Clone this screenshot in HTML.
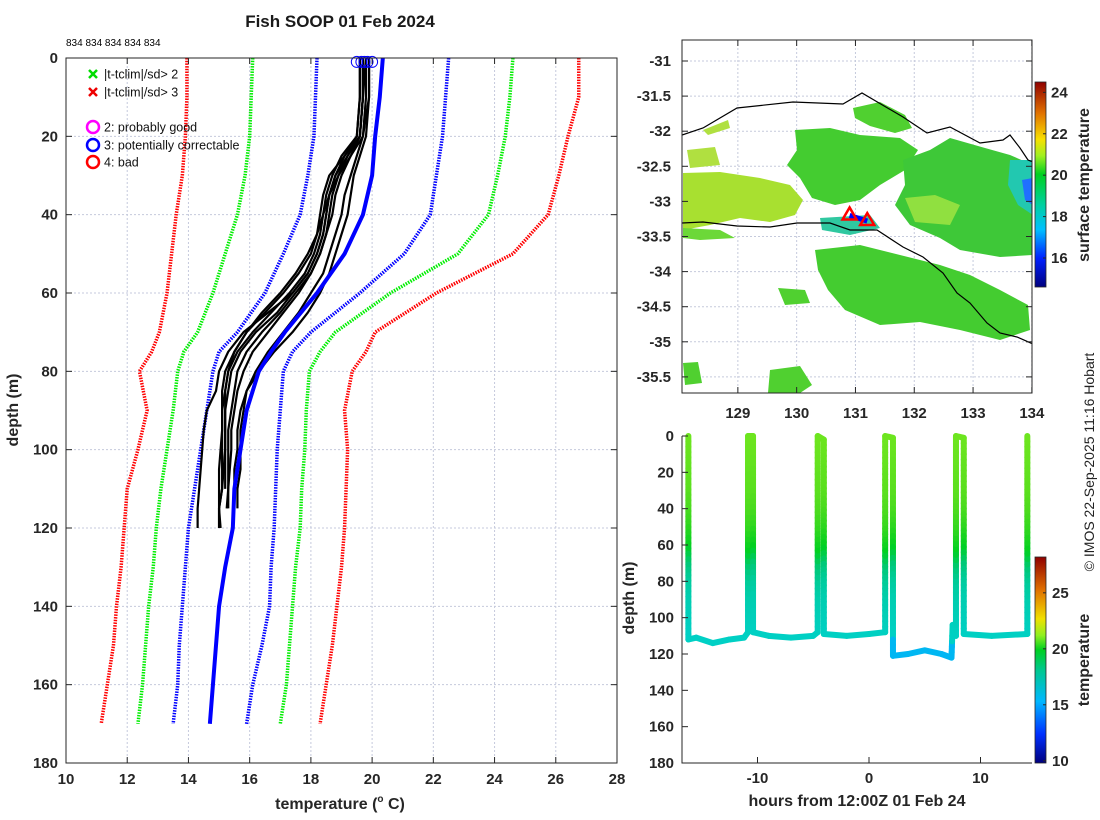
<!DOCTYPE html>
<html><head><meta charset="utf-8">
<style>
html,body{margin:0;padding:0;background:#fff;}
svg{display:block;font-family:"Liberation Sans","DejaVu Sans",sans-serif;}
.tk{font-size:15px;font-weight:bold;fill:#262626;}
.lab{font-size:16px;font-weight:bold;fill:#262626;}
</style></head>
<body>
<svg id="fig" width="1100" height="820" viewBox="0 0 1100 820" xmlns="http://www.w3.org/2000/svg">
<defs>
<linearGradient id="cmap" x1="0" y1="1" x2="0" y2="0">
<stop offset="0" stop-color="#00007f"/><stop offset="0.14" stop-color="#0020ff"/>
<stop offset="0.28" stop-color="#00c0ff"/><stop offset="0.40" stop-color="#00d0a0"/>
<stop offset="0.55" stop-color="#00d020"/><stop offset="0.64" stop-color="#a0f020"/>
<stop offset="0.72" stop-color="#f8e000"/><stop offset="0.85" stop-color="#e07000"/>
<stop offset="1" stop-color="#900000"/></linearGradient>
<linearGradient id="cmap2" x1="0" y1="1" x2="0" y2="0">
<stop offset="0" stop-color="#00007f"/><stop offset="0.14" stop-color="#0030ff"/>
<stop offset="0.30" stop-color="#00b8ff"/><stop offset="0.45" stop-color="#00c890"/>
<stop offset="0.55" stop-color="#00d020"/><stop offset="0.62" stop-color="#90f020"/>
<stop offset="0.70" stop-color="#f0e000"/><stop offset="0.84" stop-color="#e07000"/>
<stop offset="1" stop-color="#900000"/></linearGradient>
<clipPath id="clipL"><rect x="66" y="58" width="551" height="705"/></clipPath>
<clipPath id="clipM"><rect x="682" y="40" width="350" height="353"/></clipPath>
</defs>
<g id="left"></g>
<g id="map"></g>
<g id="br"></g>
</svg>
<script>
// ---------- Left panel data ----------
const climDepths = [0,10,20,30,40,50,60,70,75,80,90,100,110,120,130,140,150,160,170];
const red3Lo  = [13.95,13.95,13.9,13.8,13.6,13.45,13.3,13.05,12.8,12.4,12.65,12.35,12.0,11.9,11.8,11.65,11.55,11.35,11.15];
const grn2Lo  = [16.1,16.05,16.0,15.85,15.6,15.2,14.8,14.3,13.85,13.65,13.5,13.3,13.1,12.95,12.85,12.7,12.6,12.5,12.35];
const blu1Lo  = [18.2,18.15,18.1,17.9,17.65,17.1,16.5,15.6,15.0,14.8,14.6,14.4,14.2,14.0,13.9,13.8,13.7,13.65,13.5];
const blu1Hi  = [22.5,22.4,22.3,22.1,21.9,21.05,19.6,18.0,17.4,17.1,17.0,16.9,16.85,16.8,16.7,16.65,16.4,16.1,15.9];
const grn2Hi  = [24.6,24.5,24.35,24.1,23.8,22.8,20.6,18.8,18.3,17.95,17.85,17.8,17.7,17.65,17.5,17.4,17.3,17.2,17.0];
const red3Hi  = [26.75,26.75,26.4,26.1,25.75,24.6,22.1,20.1,19.8,19.35,19.1,19.2,19.15,19.1,19.0,18.85,18.7,18.5,18.3];
const meanProf = [20.35,20.25,20.1,20.0,19.7,19.1,18.2,17.15,16.7,16.3,15.9,15.7,15.5,15.45,15.2,15.0,14.9,14.8,14.7];
const profDepths = [0,10,20,25,30,35,40,45,50,55,60,65,70,75,80,85,90,95,100,105,110,115,120];
const profiles = [
 [19.7,19.7,19.6,19.2,18.9,18.7,18.6,18.5,18.3,18.0,17.5,17.0,16.4,15.9,15.6,15.5,15.4,15.3,15.3,15.3,15.3,15.25,null],
 [19.8,19.8,19.7,19.3,18.9,18.6,18.4,18.2,17.9,17.5,17.0,16.4,15.9,15.5,15.3,15.2,15.2,15.2,15.2,15.2,15.2,null,null],
 [19.6,19.6,19.5,19.0,18.7,18.5,18.4,18.3,18.1,17.8,17.3,16.7,16.1,15.6,15.3,15.2,15.1,15.1,15.1,15.1,15.1,15.0,15.0],
 [19.9,19.9,19.8,19.6,19.4,19.3,19.2,19.0,18.8,18.6,18.3,17.9,17.4,16.8,16.3,15.9,15.7,15.6,15.6,15.5,15.5,null,null],
 [19.7,19.7,19.6,19.1,18.8,18.6,18.5,18.4,18.2,17.9,17.4,16.6,15.8,15.3,15.0,14.9,14.6,14.5,14.45,14.4,14.35,14.3,14.3],
 [19.8,19.7,19.6,19.3,19.0,18.8,18.7,18.5,18.3,18.0,17.6,17.1,16.6,16.1,15.8,15.6,15.5,15.4,15.4,15.35,15.3,15.3,null],
 [19.6,19.6,19.5,19.1,18.6,18.4,18.3,18.2,18.0,17.6,17.1,16.5,15.9,15.5,15.2,15.1,15.1,15.1,15.05,15.0,15.0,15.0,15.05],
 [19.9,19.9,19.7,19.5,19.3,19.1,19.0,18.8,18.6,18.4,18.0,17.6,17.1,16.6,16.2,15.9,15.8,15.7,15.7,15.7,15.6,15.6,null],
 [19.7,19.7,19.6,19.2,18.8,18.6,18.5,18.4,18.2,17.9,17.4,16.9,16.2,15.7,15.4,15.3,15.2,15.2,15.2,15.15,15.1,15.0,15.0]
];
const circleTemps = [19.5,19.65,19.75,19.85,20.0];
const xTicksL = [10,12,14,16,18,20,22,24,26,28];
const yTicksL = [0,20,40,60,80,100,120,140,160,180];

// ---------- Map data ----------
const lonTicks = [129,130,131,132,133,134];
const latTicks = [-31,-31.5,-32,-32.5,-33,-33.5,-34,-34.5,-35,-35.5];
const sstTicks = [16,18,20,22,24];
const shipLon = [130.9,131.2];
const shipLat = [-33.2,-33.28];

// ---------- Depth-time data ----------
const trackHours = [-16.2,-16.2,-15.5,-14,-12.5,-11.2,-10.85,-10.85,-10.4,-10.4,-9,-7,-5,-4.6,-4.6,-4.05,-4.05,-2,0,1.45,1.45,2.15,2.15,3.5,5,6.5,7.4,7.5,7.8,7.8,8.5,8.5,11,14.2,14.2];
const trackDepths = [0,112,111,114,112,111,108,0,0,108,110,111,110,108,0,2,109,110,109,108,0,1,121,120,118,120,122,104,110,0,1,109,110,109,0];
const hourTicks = [-10,0,10];
const depthTicksR = [0,20,40,60,80,100,120,140,160,180];
const tempTicksR = [10,15,20,25];

const NS='http://www.w3.org/2000/svg';
function mk(parent,tag,attrs,text){const e=document.createElementNS(NS,tag);for(const k in attrs)e.setAttribute(k,attrs[k]);if(text!==undefined)e.textContent=text;parent.appendChild(e);return e;}

// ===== Left panel =====
const L=document.getElementById('left');
const lx=t=>66+(t-10)*(551/18), ly=d=>58+d*(705/180);
for(const t of xTicksL){const g=mk(L,'line',{x1:lx(t),x2:lx(t),y1:58,y2:763,stroke:'#c5cadc','stroke-width':1,'stroke-dasharray':'2 2'});
}
for(const d of yTicksL){const g=mk(L,'line',{x1:66,x2:617,y1:ly(d),y2:ly(d),stroke:'#c5cadc','stroke-width':1,'stroke-dasharray':'2 2'});
}
const climSets=[[red3Lo,'#ff0000','clim-minus-3sd'],[grn2Lo,'#00ee00','clim-minus-2sd'],[blu1Lo,'#0000ff','clim-minus-1sd'],[blu1Hi,'#0000ff','clim-plus-1sd'],[grn2Hi,'#00ee00','clim-plus-2sd'],[red3Hi,'#ff0000','clim-plus-3sd']];
const clipG=mk(L,'g',{'clip-path':'url(#clipL)'});
for(const [arr,col,nm] of climSets){
 const p=mk(clipG,'polyline',{points:arr.map((t,i)=>lx(t)+','+ly(climDepths[i])).join(' '),fill:'none',stroke:col,'stroke-width':3.5,'stroke-dasharray':'1.5 1.2'});
 
}
for(const pr of profiles){
 const pts=[];pr.forEach((t,i)=>{if(t!==null)pts.push(lx(t)+','+ly(profDepths[i]));});
 const p=mk(clipG,'polyline',{points:pts.join(' '),fill:'none',stroke:'#000','stroke-width':2.2,'stroke-linejoin':'round'});
 
}
{const p=mk(clipG,'polyline',{points:meanProf.map((t,i)=>lx(t)+','+ly(climDepths[i])).join(' '),fill:'none',stroke:'#0000ff','stroke-width':4});
}
for(const t of circleTemps){const c=mk(L,'circle',{cx:lx(t),cy:ly(1),r:5.5,fill:'none',stroke:'#0000ff','stroke-width':1});
}
{const f=mk(L,'rect',{x:66,y:58,width:551,height:705,fill:'none',stroke:'#262626','stroke-width':1});}
for(const t of xTicksL){mk(L,'line',{x1:lx(t),x2:lx(t),y1:763,y2:757,stroke:'#262626'});mk(L,'line',{x1:lx(t),x2:lx(t),y1:58,y2:64,stroke:'#262626'});
 const e=mk(L,'text',{x:lx(t),y:784,'text-anchor':'middle',class:'tk'},String(t));}
for(const d of yTicksL){mk(L,'line',{x1:66,x2:72,y1:ly(d),y2:ly(d),stroke:'#262626'});mk(L,'line',{x1:617,x2:611,y1:ly(d),y2:ly(d),stroke:'#262626'});
 const e=mk(L,'text',{x:58,y:ly(d)+5,'text-anchor':'end',class:'tk'},String(d));}
</script>
<script>
(function(){
const L=document.getElementById('left');
function mk(p,tag,a,t){const e=document.createElementNS('http://www.w3.org/2000/svg',tag);for(const k in a)e.setAttribute(k,a[k]);if(t!==undefined)e.textContent=t;p.appendChild(e);return e;}
let e;
e=mk(L,'text',{x:340,y:27,'text-anchor':'middle','font-size':17,'font-weight':'bold',fill:'#1a1a1a'},'Fish SOOP 01 Feb 2024');

e=mk(L,'text',{x:66,y:46,'font-size':10,fill:'#000'},'834 834 834 834 834');

e=mk(L,'text',{x:18,y:410,'text-anchor':'middle',class:'lab',transform:'rotate(-90 18 410)'},'depth (m)');

e=mk(L,'text',{x:340,y:809,'text-anchor':'middle',class:'lab'});
e.innerHTML='temperature (<tspan font-size="10" dy="-7">o</tspan><tspan dy="7"> C)</tspan>';

const lg=mk(L,'g',{});
const items=[['x','#00dd00','|t-tclim|/sd> 2',74],['x','#ee0000','|t-tclim|/sd> 3',92],['o','#ff00ff','2: probably good',127],['o','#0000ff','3: potentially correctable',145],['o','#ff0000','4: bad',162]];
for(const [m,c,t,y] of items){
 const g=mk(lg,'g',{});
 if(m==='x'){mk(g,'path',{d:`M89 ${y-4}l8 8M97 ${y-4}l-8 8`,stroke:c,'stroke-width':2.5});}
 else{mk(g,'circle',{cx:93,cy:y,r:6,fill:'none',stroke:c,'stroke-width':2.5});}
 mk(g,'text',{x:104,y:y+4.5,'font-size':12.5,fill:'#111'},t);
}
})();
</script>
<script>
(function(){
const M=document.getElementById('map');
function mk(p,tag,a,t){const e=document.createElementNS('http://www.w3.org/2000/svg',tag);for(const k in a)e.setAttribute(k,a[k]);if(t!==undefined)e.textContent=t;p.appendChild(e);return e;}
const mx=lon=>682+(lon-128.05)*58.8, my=lat=>61+(-31-lat)*70.2;
for(const v of lonTicks){const g=mk(M,'line',{x1:mx(v),x2:mx(v),y1:40,y2:393,stroke:'#c5cadc','stroke-dasharray':'2 2'});}
for(const v of latTicks){const g=mk(M,'line',{x1:682,x2:1032,y1:my(v),y2:my(v),stroke:'#c5cadc','stroke-dasharray':'2 2'});}
const cg=mk(M,'g',{'clip-path':'url(#clipM)'});

const blobs=[
 ['#50d030','M853,108 L880,102 L905,115 L912,128 L895,133 L870,126 L855,118Z'],
 ['#44cc30','M795,130 L830,128 L860,135 L900,138 L918,150 L905,170 L880,185 L860,200 L835,205 L812,198 L800,178 L787,165 L797,150Z'],
 ['#a8e030','M683,173 L720,172 L760,178 L790,185 L803,200 L795,215 L770,222 L740,218 L710,225 L683,230Z'],
 ['#6cd838','M683,228 L720,230 L735,238 L700,240 L683,238Z'],
 ['#3ec838','M903,160 L930,150 L950,138 L985,148 L1010,155 L1033,165 L1033,255 L1000,257 L960,250 L940,238 L910,225 L895,205 L905,185Z'],
 ['#90e040','M905,198 L935,195 L960,205 L950,225 L915,222Z'],
 ['#22c8b0','M1010,160 L1033,160 L1033,215 L1018,205 L1008,185Z'],
 ['#2070ff','M1022,180 L1033,178 L1033,205 L1025,200Z'],
 ['#44cc30','M815,250 L860,245 L900,255 L940,265 L970,275 L1000,290 L1028,305 L1030,330 L1000,340 L960,330 L920,322 L880,325 L845,310 L828,290 L818,270Z'],
 ['#b0e040','M687,150 L715,147 L720,165 L690,168Z'],
 ['#b0e040','M703,130 L728,120 L730,128 L708,135Z'],
 ['#50d030','M778,288 L805,290 L810,303 L785,305Z'],
 ['#50d030','M683,363 L698,362 L702,383 L685,385Z'],
 ['#50d030','M770,370 L800,366 L812,385 L800,393 L768,393Z'],
 ['#30c8a0','M820,218 L870,215 L880,228 L850,235 L822,230Z']
];
for(const [c,d] of blobs){const p=mk(cg,'path',{d:d,fill:c});}
const coast1='682,135 703,128 737,108 793,102 843,104 862,93 903,117 927,133 950,127 980,143 1003,140 1010,135 1020,148 1028,160 1033,162';
const coast2='682,223 703,222 737,226 770,227 797,223 830,223 850,230 877,230 903,247 923,257 943,273 957,293 970,303 987,323 1000,333 1017,337 1033,344';
let e=mk(cg,'polyline',{points:coast1,fill:'none',stroke:'#000','stroke-width':1.2});
e=mk(cg,'polyline',{points:coast2,fill:'none',stroke:'#000','stroke-width':1.2});
e=mk(cg,'line',{x1:mx(shipLon[0]),y1:my(shipLat[0]),x2:mx(shipLon[1]),y2:my(shipLat[1]),stroke:'#0000ff','stroke-width':5});

shipLon.forEach((lo,i)=>{const x=mx(lo),y=my(shipLat[i]);
 const t=mk(cg,'path',{d:`M${x} ${y-8}L${x+7} ${y+4}L${x-7} ${y+4}Z`,fill:'none',stroke:'#ff0000','stroke-width':2.5});
 });
e=mk(M,'rect',{x:682,y:40,width:350,height:353,fill:'none',stroke:'#262626'});
for(const v of lonTicks){mk(M,'line',{x1:mx(v),x2:mx(v),y1:393,y2:387,stroke:'#262626'});mk(M,'line',{x1:mx(v),x2:mx(v),y1:40,y2:46,stroke:'#262626'});
 const t=mk(M,'text',{x:mx(v),y:418,'text-anchor':'middle',class:'tk'},String(v));}
for(const v of latTicks){mk(M,'line',{x1:682,x2:688,y1:my(v),y2:my(v),stroke:'#262626'});mk(M,'line',{x1:1032,x2:1026,y1:my(v),y2:my(v),stroke:'#262626'});
 const t=mk(M,'text',{x:671,y:my(v)+5,'text-anchor':'end',class:'tk'},String(v));}
const cy=v=>287-(v-14.6)*(205/9.9);
e=mk(M,'rect',{x:1035,y:82,width:11,height:205,fill:'url(#cmap)',stroke:'#262626','stroke-width':0.8});
for(const v of sstTicks){mk(M,'line',{x1:1043,x2:1046,y1:cy(v),y2:cy(v),stroke:'#262626'});
 const t=mk(M,'text',{x:1051,y:cy(v)+5,class:'tk'},String(v));}
e=mk(M,'text',{x:1089,y:185,'text-anchor':'middle',class:'lab',transform:'rotate(-90 1089 185)'},'surface temperature');

e=mk(M,'text',{x:1094,y:462,'text-anchor':'middle','font-size':14,fill:'#222',transform:'rotate(-90 1094 462)'},'© IMOS 22-Sep-2025 11:16 Hobart');

})();
</script>
<script>
(function(){
const B=document.getElementById('br');
function mk(p,tag,a,t){const e=document.createElementNS('http://www.w3.org/2000/svg',tag);for(const k in a)e.setAttribute(k,a[k]);if(t!==undefined)e.textContent=t;p.appendChild(e);return e;}
const hx=h=>869+h*11.15, dy=d=>436+d*(327/180);
const stops=[[10,[0,0,127]],[11.7,[0,32,255]],[14.3,[0,176,255]],[15.5,[0,208,196]],[17,[0,200,120]],[18,[0,208,32]],[19.8,[80,220,30]],[21,[144,240,32]],[22.6,[240,224,0]],[25,[224,112,0]],[28.2,[144,0,0]]];
function col(t){if(t<=stops[0][0])return 'rgb('+stops[0][1]+')';for(let i=1;i<stops.length;i++){if(t<=stops[i][0]){const a=stops[i-1],b=stops[i],f=(t-a[0])/(b[0]-a[0]);return 'rgb('+a[1].map((v,k)=>Math.round(v+(b[1][k]-v)*f)).join(',')+')';}}return 'rgb(144,0,0)';}
function tAt(d){for(let i=1;i<climDepths.length;i++){if(d<=climDepths[i]){const f=(d-climDepths[i-1])/(climDepths[i]-climDepths[i-1]);return meanProf[i-1]+(meanProf[i]-meanProf[i-1])*f;}}return meanProf[meanProf.length-1];}
const g=mk(B,'g',{});
for(let i=1;i<trackHours.length;i++){
 const h0=trackHours[i-1],h1=trackHours[i],d0=trackDepths[i-1],d1=trackDepths[i];
 const n=Math.max(1,Math.ceil(Math.abs(d1-d0)/3));
 for(let k=0;k<n;k++){
  const a=k/n,b=(k+1)/n,da=d0+(d1-d0)*a,db=d0+(d1-d0)*b;
  let t=tAt((da+db)/2); if(h0>=2&&h1<=7.8&&(da+db)/2>112)t-=0.9;
  const s=mk(g,'line',{x1:hx(h0+(h1-h0)*a),y1:dy(da),x2:hx(h0+(h1-h0)*b),y2:dy(db),stroke:col(t),'stroke-width':6,'stroke-linecap':'round'});
  
 }
}
let e=mk(B,'path',{d:'M682 436V763H1032',fill:'none',stroke:'#262626'});
for(const h of hourTicks){mk(B,'line',{x1:hx(h),x2:hx(h),y1:763,y2:757,stroke:'#262626'});
 const t=mk(B,'text',{x:hx(h),y:783,'text-anchor':'middle',class:'tk'},String(h));}
for(const d of depthTicksR){mk(B,'line',{x1:682,x2:688,y1:dy(d),y2:dy(d),stroke:'#262626'});
 const t=mk(B,'text',{x:674,y:dy(d)+5,'text-anchor':'end',class:'tk'},String(d));}
e=mk(B,'text',{x:634,y:598,'text-anchor':'middle',class:'lab',transform:'rotate(-90 634 598)'},'depth (m)');
e=mk(B,'text',{x:857,y:806,'text-anchor':'middle',class:'lab'},'hours from 12:00Z 01 Feb 24');
const cy=v=>763-(v-9.8)*(206/18.4);
e=mk(B,'rect',{x:1035,y:557,width:11,height:206,fill:'url(#cmap2)',stroke:'#262626','stroke-width':0.8});
for(const v of tempTicksR){mk(B,'line',{x1:1043,x2:1046,y1:cy(v),y2:cy(v),stroke:'#262626'});
 const t=mk(B,'text',{x:1052,y:cy(v)+5,class:'tk','font-size':14},String(v));}
e=mk(B,'text',{x:1089,y:660,'text-anchor':'middle',class:'lab',transform:'rotate(-90 1089 660)'},'temperature');
})();
</script>
</body></html>
